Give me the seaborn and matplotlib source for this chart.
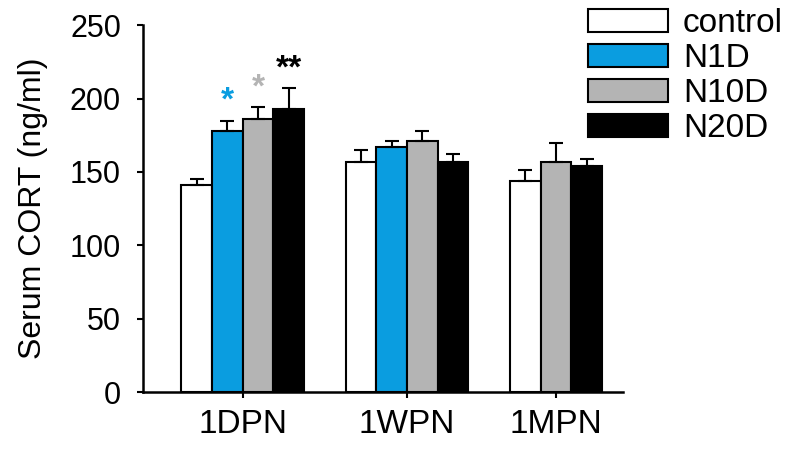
import numpy as np
import pandas as pd
import matplotlib
matplotlib.use("Agg")
import matplotlib.pyplot as plt
import seaborn as sns

# values (mean, upper SEM)
groups = ['1DPN', '1WPN', '1MPN']
treatments = ['control', 'N1D', 'N10D', 'N20D']
control_mean = [141, 157, 144]
n1d_mean = [178, 167, np.nan]
n10d_mean = [186, 171, 157]
n20d_mean = [193, 157, 154]
control_err = [4, 8, 7]
n1d_err = [7, 4, np.nan]
n10d_err = [8, 7, 13]
n20d_err = [14, 5, 5]
signif_1dpn = ['', '*', '*', '**']

colors = {'control': 'white', 'N1D': '#0a9de0', 'N10D': '#b4b4b4', 'N20D': 'black'}
star_colors = {'control': 'black', 'N1D': '#0a9de0', 'N10D': '#b4b4b4', 'N20D': 'black'}

means = {'control': control_mean, 'N1D': n1d_mean, 'N10D': n10d_mean, 'N20D': n20d_mean}
errs = {'control': control_err, 'N1D': n1d_err, 'N10D': n10d_err, 'N20D': n20d_err}

# build a long table, bars of one group sit side by side, fixed gap between groups
gap = 1.35
rows = []
centers = []
left = 0.0
for gi, g in enumerate(groups):
    present = [t for t in treatments if not np.isnan(means[t][gi])]
    for k, t in enumerate(present):
        rows.append({'group': g, 'treatment': t, 'pos': left + k,
                     'mean': means[t][gi], 'err': errs[t][gi]})
    centers.append(left + (len(present) - 1) / 2)
    left += len(present) + gap
df = pd.DataFrame(rows)

sns.set_style("ticks")
plt.rcParams['font.family'] = ['Liberation Sans', 'DejaVu Sans']
plt.rcParams['text.color'] = 'black'
plt.rcParams['axes.labelcolor'] = 'black'
plt.rcParams['xtick.color'] = 'black'
plt.rcParams['ytick.color'] = 'black'

fig = plt.figure(figsize=(8, 4.58), dpi=100)
ax = fig.add_axes([0.179, 0.144, 0.6, 0.801])

sns.barplot(data=df, x='pos', y='mean', hue='treatment', hue_order=treatments,
            palette=colors, native_scale=True, width=1, saturation=1,
            edgecolor='black', linewidth=1.5, errorbar=None, ax=ax)

ax.errorbar(df['pos'], df['mean'], yerr=[np.zeros(len(df)), df['err']],
            fmt='none', ecolor='black', elinewidth=1.5, capsize=5, capthick=1.5, zorder=3)

# significance marks over 1DPN
d1 = df[df['group'] == '1DPN']
for (_, r), s in zip(d1.iterrows(), signif_1dpn):
    if s:
        ax.text(r['pos'], r['mean'] + r['err'] + 13, s, ha='center', va='center',
                fontsize=24, fontweight='bold', color=star_colors[r['treatment']])

ax.set_ylim(0, 250)
ax.set_yticks([0, 50, 100, 150, 200, 250])
ax.set_xlim(-1.74, 13.89)
ax.set_xticks(centers)
ax.set_xticklabels(groups)
ax.set_xlabel('')
ax.set_ylabel('Serum CORT (ng/ml)', fontsize=23, labelpad=16)
ax.tick_params(axis='both', width=1.5, length=4)
ax.tick_params(axis='y', labelsize=22, pad=12)
ax.tick_params(axis='x', labelsize=24, pad=8)
for side in ['left', 'bottom']:
    ax.spines[side].set_linewidth(1.8)
    ax.spines[side].set_color('black')
sns.despine(ax=ax)

handles, labels = ax.get_legend_handles_labels()
if ax.get_legend() is not None:
    ax.get_legend().remove()
leg = fig.legend(handles, labels, loc='upper left', bbox_to_anchor=(0.735, 0.982),
                 frameon=False, fontsize=24, handlelength=2.4, handleheight=0.7,
                 handletextpad=0.45, labelspacing=0.12, borderpad=0, borderaxespad=0)
for p in leg.get_patches():
    p.set_edgecolor('black')
    p.set_linewidth(1.5)

fig.savefig('out.png', dpi=100)
